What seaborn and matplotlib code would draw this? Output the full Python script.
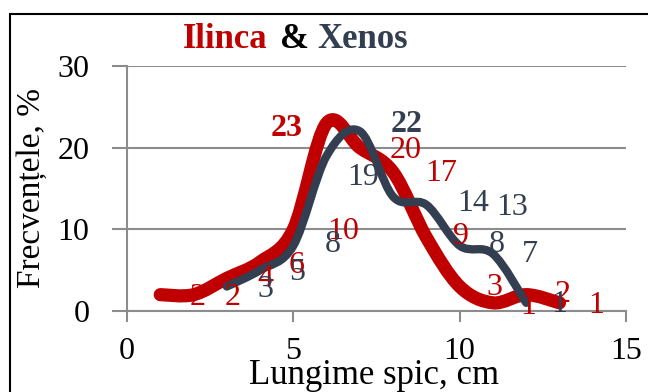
import numpy as np
import pandas as pd
import matplotlib
matplotlib.use("Agg")
import matplotlib.pyplot as plt
import seaborn as sns
from matplotlib.path import Path
from matplotlib.patches import PathPatch, Rectangle

# ---- data ----
ilinca_x = [1, 2, 3, 4, 5, 6, 7, 8, 9, 10, 11, 12, 13]
ilinca_y = [2, 2, 4, 6, 10, 23, 20, 17, 9, 3, 1, 2, 1]
xenos_x = [3, 4, 5, 6, 7, 8, 9, 10, 11, 12]
xenos_y = [3, 5, 8, 19, 22, 14, 13, 8, 7, 1]

# data-label texts and where they sit (as in the original chart)
ilinca_labels = ["2", "2", "4", "6", "10", "23", "20", "17", "9", "3", "1", "2", "1"]
ilinca_label_x = [2.13, 3.19, 4.15, 5.11, 6.49, 4.81, 8.39, 9.44, 10.04, 11.06, 12.05, 13.1, 14.1]
ilinca_label_y = [1.6, 1.6, 4.0, 5.6, 9.7, 22.4, 19.6, 16.8, 9.1, 2.9, 0.6, 2.0, 0.7]
xenos_labels = ["3", "5", "8", "19", "22", "14", "13", "8", "7", "1"]
xenos_label_x = [4.15, 5.11, 6.19, 7.09, 8.42, 10.4, 11.57, 11.12, 12.11, 13.0]
xenos_label_y = [2.6, 4.7, 8.1, 16.4, 22.8, 13.2, 12.7, 8.1, 6.9, 0.8]

x_ticks = [0, 5, 10, 15]
y_ticks = [0, 10, 20, 30]

RED = "#C00000"
BLUE = "#333F50"
GRAY = "#8C8C8C"

sns.set_style("white")
plt.rcParams["font.family"] = ["Liberation Serif", "DejaVu Serif"]

fig = plt.figure(figsize=(6.48, 3.92), dpi=100)
ax = fig.add_axes([127 / 648, 1 - 311 / 392, (626 - 127) / 648, (311 - 66) / 392])

df = pd.concat([
    pd.DataFrame({"x": ilinca_x, "y": ilinca_y, "s": "Ilinca"}),
    pd.DataFrame({"x": xenos_x, "y": xenos_y, "s": "Xenos"}),
])
sns.lineplot(data=df, x="x", y="y", hue="s", palette={"Ilinca": RED, "Xenos": BLUE},
             linewidth=0, legend=False, ax=ax, estimator=None, sort=False)


def smooth_path(x, y):
    P = np.column_stack([x, y]).astype(float)
    n = len(P)
    verts = [P[0]]
    codes = [Path.MOVETO]
    for i in range(n - 1):
        p0 = P[i - 1] if i > 0 else P[i]
        p3 = P[i + 2] if i + 2 < n else P[i + 1]
        c1 = P[i] + (P[i + 1] - p0) / 6.0
        c2 = P[i + 1] - (p3 - P[i]) / 6.0
        verts += [c1, c2, P[i + 1]]
        codes += [Path.CURVE4] * 3
    return Path(verts, codes)


for xs, ys, col, lw, z in [(ilinca_x, ilinca_y, RED, 9.5, 3), (xenos_x, xenos_y, BLUE, 6.0, 4)]:
    patch = PathPatch(smooth_path(xs, ys), facecolor="none", edgecolor=col, lw=lw,
                      capstyle="round", joinstyle="round", zorder=z)
    ax.add_patch(patch)

for t, lx, ly in zip(ilinca_labels, ilinca_label_x, ilinca_label_y):
    ax.text(lx, ly, t, color=RED, fontsize=23, ha="center", va="center", zorder=5,
            fontweight="bold" if t == "23" else "normal")
for t, lx, ly in zip(xenos_labels, xenos_label_x, xenos_label_y):
    ax.text(lx, ly, t, color=BLUE, fontsize=23, ha="center", va="center", zorder=5,
            fontweight="bold" if t == "22" else "normal")

ax.set_xlim(0, 15)
ax.set_ylim(0, 30)
ax.set_xticks(x_ticks)
ax.set_yticks(y_ticks)
ax.set_xticklabels([str(v) for v in x_ticks])
ax.set_yticklabels([str(v) for v in y_ticks])
ax.set_xlabel("")
ax.set_ylabel("")
ax.yaxis.grid(True, color=GRAY, linewidth=1.5)
ax.xaxis.grid(False)
ax.set_axisbelow(True)
for s in ["top", "right"]:
    ax.spines[s].set_visible(False)
for s in ["left", "bottom"]:
    ax.spines[s].set_color(GRAY)
    ax.spines[s].set_linewidth(1.5)
ax.tick_params(axis="y", length=11, width=1.5, color=GRAY, pad=16, labelsize=23,
               direction="out", left=True)
ax.tick_params(axis="x", length=8, width=1.5, color=GRAY, pad=11, labelsize=23,
               direction="out", bottom=True)
for lab in ax.get_xticklabels() + ax.get_yticklabels():
    lab.set_color("black")

# titles
fig.text(183 / 648, 1 - 40 / 392, "Ilinca", color=RED, fontsize=25, fontweight="bold",
         ha="left", va="center")
fig.text(280 / 648, 1 - 40 / 392, "&", color="black", fontsize=25, fontweight="bold",
         ha="left", va="center")
fig.text(317 / 648, 1 - 40 / 392, "Xenos", color=BLUE, fontsize=25, fontweight="bold",
         ha="left", va="center")
fig.text(32 / 648, 1 - 188 / 392, "Frecvențele, %", fontsize=24, rotation=90,
         ha="center", va="center", color="black")
fig.text(374 / 648, 1 - 384 / 392, "Lungime spic, cm", fontsize=25, ha="center",
         va="baseline", color="black")

# outer border
fig.add_artist(Rectangle((10 / 648, -0.1), 1.2, 1.1 - 14 / 392, transform=fig.transFigure,
                         fill=False, edgecolor="black", linewidth=1.5))

fig.savefig("out.png", dpi=100)
